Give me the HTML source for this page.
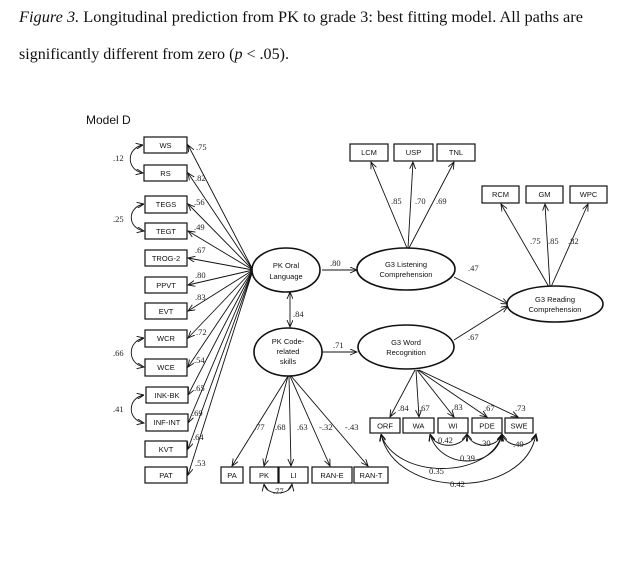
<!DOCTYPE html>
<html><head><meta charset="utf-8"><style>
body{margin:0;background:#fff;width:644px;height:585px;overflow:hidden}
svg{display:block}
.s{font-family:"Liberation Serif",serif;font-size:8.5px;fill:#222}
.b{font-family:"Liberation Sans",sans-serif;font-size:7.5px;fill:#111}
rect{fill:#fff;stroke:#111;stroke-width:1.2}
ellipse{fill:#fff;stroke:#111;stroke-width:1.6}
.l{stroke:#111;stroke-width:0.9;fill:none}
</style></head><body>
<svg width="644" height="585" viewBox="0 0 644 585">
<defs>
<marker id="a" markerWidth="8" markerHeight="8" refX="7" refY="3" orient="auto" markerUnits="userSpaceOnUse"><path d="M0,0 L7,3 L0,6" fill="none" stroke="#111" stroke-width="0.9"/></marker>
<marker id="s" markerWidth="8" markerHeight="8" refX="0" refY="3" orient="auto" markerUnits="userSpaceOnUse"><path d="M7,0 L0,3 L7,6" fill="none" stroke="#111" stroke-width="0.9"/></marker>
</defs>
<text x="19" y="22" font-family="Liberation Serif,serif" font-size="16.2" fill="#111" textLength="564" lengthAdjust="spacingAndGlyphs"><tspan font-style="italic">Figure 3.</tspan>  Longitudinal prediction from PK to grade 3: best fitting model. All paths are</text>
<text x="19" y="59" font-family="Liberation Serif,serif" font-size="16.2" fill="#111" textLength="270" lengthAdjust="spacingAndGlyphs">significantly different from zero (<tspan font-style="italic">p</tspan> &lt; .05).</text>
<text x="86" y="124" font-family="Liberation Sans,sans-serif" font-size="12" fill="#111">Model D</text>

<g class="l" marker-end="url(#a)">
<line x1="253" y1="270" x2="188" y2="145"/><line x1="253" y1="270" x2="188" y2="173"/>
<line x1="253" y1="270" x2="188" y2="204"/><line x1="253" y1="270" x2="188" y2="231"/>
<line x1="253" y1="270" x2="188" y2="258"/><line x1="253" y1="270" x2="188" y2="285"/>
<line x1="253" y1="270" x2="188" y2="311"/><line x1="253" y1="270" x2="188" y2="338"/>
<line x1="253" y1="270" x2="188" y2="367"/><line x1="253" y1="270" x2="188" y2="395"/>
<line x1="253" y1="270" x2="188" y2="423"/><line x1="253" y1="270" x2="188" y2="449"/>
<line x1="253" y1="270" x2="188" y2="475"/>
</g>
<g class="s">
<text x="196" y="150">.75</text><text x="195" y="181">.82</text><text x="194" y="205">.56</text><text x="194" y="230">.49</text>
<text x="195" y="253">.67</text><text x="195" y="278">.80</text><text x="195" y="300">.83</text><text x="196" y="335">.72</text>
<text x="194" y="363">.54</text><text x="194" y="391">.65</text><text x="192" y="416">.69</text><text x="193" y="440">.64</text><text x="195" y="466">.53</text>
</g>
<g class="l" marker-start="url(#s)" marker-end="url(#a)">
<path d="M143,145 C126,148 126,170 143,173"/>
<path d="M144,204 C127,207 127,228 144,231"/>
<path d="M144,338 C127,341 127,364 144,367"/>
<path d="M144,395 C127,398 127,420 144,423"/>
</g>
<g class="s"><text x="113" y="161">.12</text><text x="113" y="222">.25</text><text x="113" y="356">.66</text><text x="113" y="412">.41</text></g>
<g>
<rect x="144" y="137" width="43" height="16"/><rect x="144" y="165" width="43" height="16"/>
<rect x="145" y="196" width="42" height="17"/><rect x="145" y="223" width="42" height="16"/>
<rect x="145" y="250" width="42" height="16"/><rect x="145" y="277" width="42" height="16"/>
<rect x="145" y="303" width="42" height="16"/><rect x="145" y="330" width="42" height="17"/>
<rect x="145" y="359" width="42" height="17"/><rect x="146" y="387" width="42" height="16"/>
<rect x="146" y="414" width="42" height="17"/><rect x="145" y="441" width="42" height="16"/>
<rect x="145" y="467" width="42" height="16"/>
</g>
<g class="b" text-anchor="middle">
<text x="165.5" y="148">WS</text><text x="165.5" y="176">RS</text><text x="166" y="207">TEGS</text><text x="166" y="234">TEGT</text>
<text x="166" y="261">TROG-2</text><text x="166" y="288">PPVT</text><text x="166" y="314">EVT</text><text x="166" y="341">WCR</text>
<text x="166" y="370">WCE</text><text x="167" y="398">INK-BK</text><text x="167" y="425">INF-INT</text><text x="166" y="452">KVT</text><text x="166" y="478">PAT</text>
</g>

<g class="l">
<line x1="290" y1="292" x2="290" y2="327" marker-start="url(#s)" marker-end="url(#a)"/>
<line x1="322" y1="270" x2="357" y2="270" marker-end="url(#a)"/>
<line x1="322" y1="352" x2="357" y2="352" marker-end="url(#a)"/>
<line x1="454" y1="277" x2="508" y2="304" marker-end="url(#a)"/>
<line x1="454" y1="340" x2="508" y2="306" marker-end="url(#a)"/>
<line x1="407" y1="248" x2="371" y2="162" marker-end="url(#a)"/>
<line x1="408" y1="248" x2="413" y2="162" marker-end="url(#a)"/>
<line x1="409" y1="248" x2="454" y2="162" marker-end="url(#a)"/>
<line x1="549" y1="287" x2="501" y2="204" marker-end="url(#a)"/>
<line x1="550" y1="287" x2="545" y2="204" marker-end="url(#a)"/>
<line x1="551" y1="287" x2="588" y2="204" marker-end="url(#a)"/>
<line x1="288" y1="376" x2="232" y2="466" marker-end="url(#a)"/>
<line x1="288" y1="376" x2="264" y2="466" marker-end="url(#a)"/>
<line x1="289" y1="376" x2="291" y2="466" marker-end="url(#a)"/>
<line x1="290" y1="376" x2="330" y2="466" marker-end="url(#a)"/>
<line x1="291" y1="376" x2="368" y2="466" marker-end="url(#a)"/>
<line x1="415" y1="370" x2="390" y2="417" marker-end="url(#a)"/>
<line x1="416" y1="370" x2="419" y2="417" marker-end="url(#a)"/>
<line x1="417" y1="370" x2="454" y2="417" marker-end="url(#a)"/>
<line x1="418" y1="370" x2="487" y2="417" marker-end="url(#a)"/>
<line x1="419" y1="370" x2="518" y2="417" marker-end="url(#a)"/>
</g>
<g class="s">
<text x="293" y="317">.84</text><text x="330" y="266">.80</text><text x="333" y="348">.71</text>
<text x="468" y="271">.47</text><text x="468" y="340">.67</text>
<text x="391" y="204">.85</text><text x="415" y="204">.70</text><text x="436" y="204">.69</text>
<text x="530" y="244">.75</text><text x="548" y="244">.85</text><text x="568" y="244">.82</text>
<text x="254" y="430">.77</text><text x="275" y="430">.68</text><text x="297" y="430">.63</text><text x="319" y="430">-.32</text><text x="345" y="430">-.43</text>
<text x="398" y="411">.84</text><text x="419" y="411">.67</text><text x="452" y="410">.83</text><text x="484" y="411">.67</text><text x="515" y="411">.73</text>
</g>
<g class="l" marker-start="url(#s)" marker-end="url(#a)">
<path d="M264,484 C266,496 290,496 292,484"/>
<path d="M430,434 C435,449 462,449 467,434"/>
<path d="M467,434 C472,449 497,449 502,434"/>
<path d="M502,434 C507,449 531,449 536,434"/>
<path d="M430,434 C440,470 495,470 502,434"/>
<path d="M381,434 C395,480 490,480 502,434"/>
<path d="M381,434 C395,500 525,500 536,434"/>
</g>
<g class="s">
<text x="273" y="494">.77</text><text x="438" y="443">0.42</text><text x="480" y="446">.30</text><text x="513" y="447">.49</text>
<text x="460" y="461">0.39</text><text x="429" y="474">0.35</text><text x="450" y="487">0.42</text>
</g>
<ellipse cx="286" cy="270" rx="34" ry="22"/>
<ellipse cx="288" cy="352" rx="34" ry="24"/>
<ellipse cx="406" cy="269" rx="49" ry="21"/>
<ellipse cx="406" cy="347" rx="48" ry="22"/>
<ellipse cx="555" cy="304" rx="48" ry="18"/>
<g class="b" text-anchor="middle">
<text x="286" y="268">PK Oral</text><text x="286" y="279">Language</text>
<text x="288" y="344">PK Code-</text><text x="288" y="354">related</text><text x="288" y="364">skills</text>
<text x="406" y="267">G3 Listening</text><text x="406" y="277">Comprehension</text>
<text x="406" y="345">G3 Word</text><text x="406" y="355">Recognition</text>
<text x="555" y="302">G3 Reading</text><text x="555" y="312">Comprehension</text>
</g>
<rect x="350" y="144" width="38" height="17"/><rect x="394" y="144" width="39" height="17"/><rect x="437" y="144" width="38" height="17"/>
<rect x="482" y="186" width="37" height="17"/><rect x="526" y="186" width="37" height="17"/><rect x="570" y="186" width="37" height="17"/>
<rect x="221" y="467" width="22" height="16"/><rect x="250" y="467" width="28" height="16"/><rect x="279" y="467" width="29" height="16"/>
<rect x="312" y="467" width="40" height="16"/><rect x="354" y="467" width="34" height="16"/>
<rect x="370" y="418" width="30" height="15"/><rect x="403" y="418" width="31" height="15"/><rect x="438" y="418" width="30" height="15"/>
<rect x="472" y="418" width="30" height="15"/><rect x="505" y="418" width="28" height="15"/>
<g class="b" text-anchor="middle">
<text x="369" y="155">LCM</text><text x="413.5" y="155">USP</text><text x="456" y="155">TNL</text>
<text x="500.5" y="197">RCM</text><text x="544.5" y="197">GM</text><text x="588.5" y="197">WPC</text>
<text x="232" y="478">PA</text><text x="264" y="478">PK</text><text x="293.5" y="478">LI</text><text x="332" y="478">RAN-E</text><text x="371" y="478">RAN-T</text>
<text x="385" y="428.5">ORF</text><text x="418.5" y="428.5">WA</text><text x="453" y="428.5">WI</text><text x="487" y="428.5">PDE</text><text x="519" y="428.5">SWE</text>
</g>
</svg>
</body></html>
